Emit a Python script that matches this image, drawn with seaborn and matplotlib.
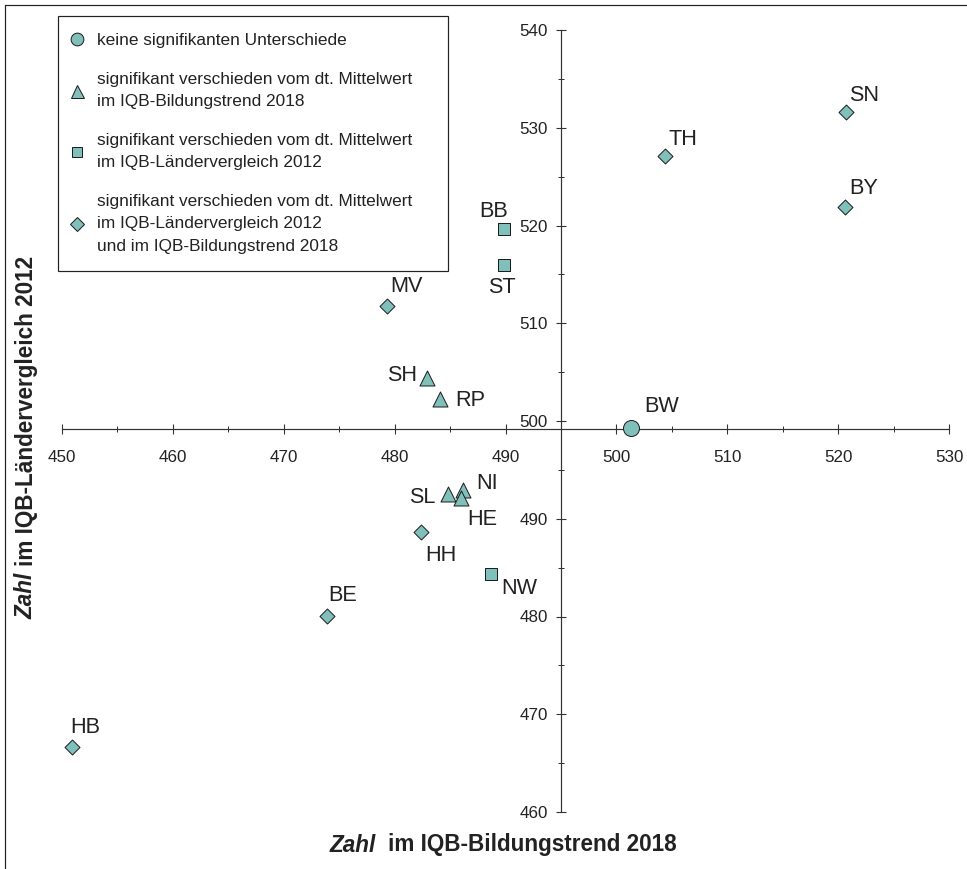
import numpy as np
import pandas as pd
import matplotlib
matplotlib.use("Agg")
import matplotlib.pyplot as plt
import seaborn as sns
from matplotlib.lines import Line2D
from matplotlib.ticker import MultipleLocator

# ---------------- data ----------------
laender = ["SN", "TH", "BY", "BB", "ST", "MV", "SH", "RP",
           "SL", "NI", "HE", "HH", "NW", "BE", "HB", "BW"]
bildungstrend_2018 = [520.7, 504.4, 520.6, 489.9, 489.9, 479.3, 482.9, 484.1,
                      484.8, 486.2, 486.0, 482.4, 488.7, 473.9, 450.9, 501.3]
laendervergleich_2012 = [531.6, 527.1, 521.9, 519.6, 516.0, 511.8, 504.4, 502.2,
                         492.5, 492.9, 492.1, 488.6, 484.3, 480.1, 466.6, 499.3]
gruppe = ["D", "D", "D", "Q", "Q", "D", "T", "T",
          "T", "T", "T", "D", "Q", "D", "D", "K"]

gruppen = ["K", "T", "Q", "D"]
gruppen_text = [
    "keine signifikanten Unterschiede",
    "signifikant verschieden vom dt. Mittelwert\nim IQB-Bildungstrend 2018",
    "signifikant verschieden vom dt. Mittelwert\nim IQB-Ländervergleich 2012",
    "signifikant verschieden vom dt. Mittelwert\nim IQB-Ländervergleich 2012\nund im IQB-Bildungstrend 2018",
]
x_ticks = [450, 460, 470, 480, 490, 500, 510, 520, 530]
y_ticks = [460, 470, 480, 490, 500, 510, 520, 530, 540]

# ---------------- styles ----------------
sns.set_style("white")
plt.rcParams["font.family"] = ["Liberation Sans", "DejaVu Sans"]

W, H = 967, 869
fig = plt.figure(figsize=(W / 72, H / 72), dpi=72)
ax = fig.add_axes([62 / W, 1 - 812 / H, 887 / W, 782 / H])

fill = "#80c0bb"
edge = "#1e1e1e"
txt = "#222222"
marker_map = {"K": "o", "T": "^", "Q": "s", "D": "D"}
size_map = {"K": 256, "T": 225, "Q": 161, "D": 112}
legend_ms = {"K": 12.7, "T": 13.0, "Q": 9.3, "D": 10.4}

df = pd.DataFrame({"land": laender, "x": bildungstrend_2018,
                   "y": laendervergleich_2012, "gruppe": gruppe})

for g in gruppen:
    sub = df[df["gruppe"] == g]
    sns.scatterplot(data=sub, x="x", y="y", marker=marker_map[g], s=size_map[g],
                    color=fill, edgecolor=edge, linewidth=1.0, ax=ax,
                    zorder=3, clip_on=False, legend=False)

# label offsets (points, right / down)
offsets = {"SN": (18, -19), "TH": (18, -19), "BY": (19, -21), "BB": (-11, -20),
           "ST": (-3, 21), "MV": (20, -21), "SH": (-25, -5), "RP": (30, -1),
           "SL": (-26, 1), "NI": (24, -9), "HE": (21, 19), "HH": (20, 21),
           "NW": (28, 12), "BE": (16, -22), "HB": (13, -22), "BW": (31, -24)}
lab_fs = 21.6
for name, xv, yv in zip(laender, bildungstrend_2018, laendervergleich_2012):
    dx, dy = offsets[name]
    ax.annotate(name, (xv, yv), xytext=(dx, -(dy + 0.358 * lab_fs)),
                textcoords="offset points", ha="center", va="baseline",
                fontsize=lab_fs, color=txt, zorder=4)

# axes
ax.set_xlim(450, 530)
ax.set_ylim(460, 540)
ax.set_xlabel("")
ax.set_ylabel("")
ax.set_xticks(x_ticks)
ax.set_yticks(y_ticks)
ax.xaxis.set_minor_locator(MultipleLocator(5))
ax.yaxis.set_minor_locator(MultipleLocator(5))
ax.patch.set_alpha(0)
for s in ["top", "right"]:
    ax.spines[s].set_visible(False)
ax.spines["left"].set_position(("data", 495))
ax.spines["bottom"].set_position(("data", 499.2))
for s in ["left", "bottom"]:
    ax.spines[s].set_linewidth(1.2)
    ax.spines[s].set_color("#333333")
ax.tick_params(which="major", direction="inout", length=10, width=1.1,
               color="#333333", labelsize=17, labelcolor=txt)
ax.tick_params(which="minor", direction="inout", length=6, width=1.0,
               color="#333333")
ax.tick_params(axis="x", which="major", pad=16, bottom=True)
ax.tick_params(axis="y", which="major", pad=8, left=True)
ax.tick_params(axis="x", which="minor", bottom=True)
ax.tick_params(axis="y", which="minor", left=True)

# legend
handles = [Line2D([], [], ls="none", marker=marker_map[g], markersize=legend_ms[g],
                  markerfacecolor=fill, markeredgecolor=edge, markeredgewidth=1.0)
           for g in gruppen]
leg = ax.legend(handles, gruppen_text, loc="upper left",
                bbox_to_anchor=(58 / W, 1 - 269 / H, 390 / W, 253 / H),
                bbox_transform=fig.transFigure, mode="expand", borderaxespad=0,
                fontsize=17.2, frameon=True, fancybox=False, edgecolor="#222222",
                framealpha=1, handlelength=0.2, handletextpad=1.07,
                borderpad=1.0, labelspacing=1.37)
leg.get_frame().set_linewidth(1.2)
for t in leg.get_texts():
    t.set_linespacing(1.62)
    t.set_color(txt)

# axis titles (bold, "Zahl" italic)
fig.text(330 / W, 1 - 845 / H, "Zahl", fontsize=22.5, fontweight="bold",
         fontstyle="italic", ha="left", va="center", color=txt)
fig.text(388 / W, 1 - 845 / H, "im IQB-Bildungstrend 2018", fontsize=22.5,
         fontweight="bold", ha="left", va="center", color=txt)
fig.text(26 / W, 1 - 619 / H, "Zahl", fontsize=22.5, fontweight="bold",
         fontstyle="italic", rotation=90, rotation_mode="anchor",
         ha="left", va="center", color=txt)
fig.text(26 / W, 1 - 566 / H, "im IQB-Ländervergleich 2012", fontsize=22.5,
         fontweight="bold", rotation=90, rotation_mode="anchor",
         ha="left", va="center", color=txt)

# outer frame lines
fig.add_artist(Line2D([5 / W, 5 / W], [0, 1 - 5 / H], transform=fig.transFigure,
                      color="#222222", lw=1.2))
fig.add_artist(Line2D([5 / W, 1], [1 - 5 / H, 1 - 5 / H], transform=fig.transFigure,
                      color="#222222", lw=1.2))

fig.savefig("out.png", dpi=72, facecolor="white")
